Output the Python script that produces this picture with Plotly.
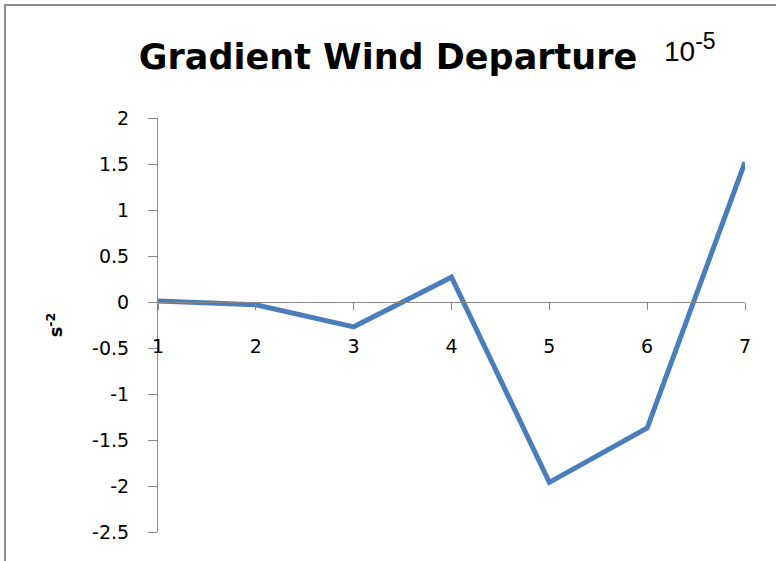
import plotly.graph_objects as go

categories = [1, 2, 3, 4, 5, 6, 7]
values = [0.01, -0.03, -0.27, 0.27, -1.96, -1.37, 1.52]
y_ticks = [-2.5, -2, -1.5, -1, -0.5, 0, 0.5, 1, 1.5, 2]
y_tick_labels = ["-2.5", "-2", "-1.5", "-1", "-0.5", "0", "0.5", "1", "1.5", "2"]

W, H = 776, 561
ML, MR, MT, MB = 158, 31, 118, 29
PW, PH = W - ML - MR, H - MT - MB

def px(x):
    return (x - ML) / PW

def py(y):
    return (H - MB - y) / PH

AX = "#868686"
FONT = "'DejaVu Sans', 'Liberation Sans', sans-serif"

fig = go.Figure()
fig.add_trace(go.Scatter(
    x=categories, y=values, mode="lines",
    line=dict(color="#4A7EBB", width=5),
    showlegend=False, hoverinfo="x+y",
))

fig.update_layout(
    width=W, height=H,
    margin=dict(l=ML, r=MR, t=MT, b=MB, pad=0),
    paper_bgcolor="white", plot_bgcolor="white",
    title=dict(text="<b>Gradient Wind Departure</b>", x=0.5, xref="container",
               xanchor="center", y=1 - 57 / H, yref="container", yanchor="middle",
               font=dict(family=FONT, size=35, color="black")),
    xaxis=dict(range=[1, 7], tickvals=categories, ticktext=[str(c) for c in categories],
               showgrid=False, zeroline=False, showline=True, linecolor=AX, linewidth=1,
               ticks="outside", ticklen=7, tickcolor=AX, tickwidth=1,
               anchor="free", position=2.5 / 4.5, ticklabelstandoff=20,
               tickfont=dict(family=FONT, size=19, color="black")),
    yaxis=dict(range=[-2.5, 2], tickvals=y_ticks, ticktext=y_tick_labels,
               showgrid=False, zeroline=False, showline=True, linecolor=AX, linewidth=1,
               ticks="outside", ticklen=9, tickcolor=AX, tickwidth=1,
               ticklabelstandoff=15,
               tickfont=dict(family=FONT, size=19, color="black"),
               title=dict(text="<b>s<sup>-2</sup></b>", standoff=24,
                          font=dict(family=FONT, size=18, color="black"))),
)

# "10^-5" scale note beside the title
fig.add_annotation(text="10<sup><span style='font-size:23px'>-5</span></sup>",
                   xref="paper", yref="paper",
                   x=px(662), y=py(48), xanchor="left", yanchor="middle",
                   showarrow=False,
                   font=dict(family="'Liberation Sans', Arial, sans-serif", size=28, color="black"))

# outer chart border (cropped: only top and left visible)
fig.add_shape(type="path", xref="paper", yref="paper",
              path=f"M {px(5)},{py(H + 10)} L {px(5)},{py(5)} L {px(W + 10)},{py(5)}",
              line=dict(color="#8C8C8C", width=2))

fig.write_html("out.html", config={"displayModeBar": False},
               post_script="document.body.style.margin='0';")
